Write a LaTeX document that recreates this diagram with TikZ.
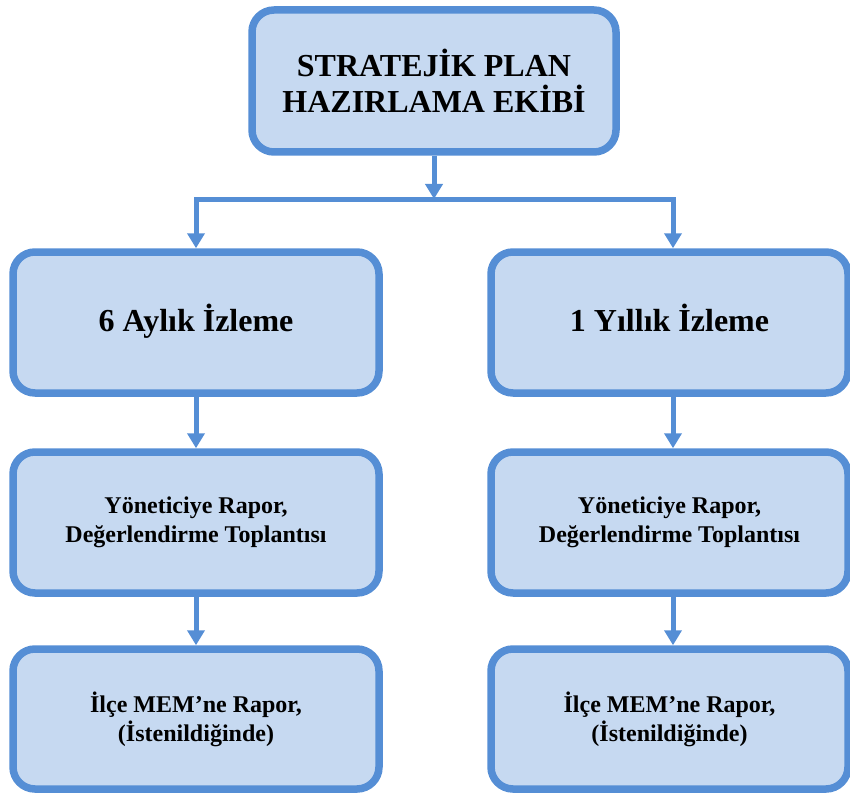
\documentclass[tikz,border=0pt]{standalone}
\usepackage{fontspec}
\setmainfont{Liberation Serif}
\usetikzlibrary{arrows.meta}
\definecolor{bord}{RGB}{85,142,213}
\definecolor{fillc}{RGB}{198,217,241}
\begin{document}
\begin{tikzpicture}[x=1pt,y=-1pt,
  box/.style={draw=bord, fill=fillc, line width=7.5pt, rounded corners=22pt,
    minimum height=141pt, align=center, font=\bfseries, inner sep=0pt},
  lbox/.style={box, minimum width=366pt},
  rbox/.style={box, minimum width=357pt},
  conn/.style={draw=bord, line width=5pt, line join=miter,
    -{Triangle[width=17pt,length=15pt]}},
  bigtxt/.style={font=\bfseries\fontsize{32}{36}\selectfont, text height=24pt, text depth=7pt},
  smtxt/.style={font=\bfseries\fontsize{24}{29}\selectfont}
]
\useasboundingbox (0,0) rectangle (850,794);

\node[box, minimum width=364pt, minimum height=142pt,
  font=\bfseries\fontsize{32}{36}\selectfont] (top) at (434,81)
  {STRATEJİK PLAN\\HAZIRLAMA EKİBİ};

\node[lbox, bigtxt] (a1) at (196,322.5) {6 Aylık İzleme};
\node[lbox, smtxt] (a2) at (196,522.5) {Yöneticiye Rapor,\\Değerlendirme Toplantısı};
\node[lbox, smtxt, minimum height=140pt] (a3) at (196,719) {İlçe MEM’ne Rapor,\\(İstenildiğinde)};

\node[rbox, bigtxt] (b1) at (669.5,322.5) {1 Yıllık İzleme};
\node[rbox, smtxt] (b2) at (669.5,522.5) {Yöneticiye Rapor,\\Değerlendirme Toplantısı};
\node[rbox, smtxt, minimum height=140pt] (b3) at (669.5,719) {İlçe MEM’ne Rapor,\\(İstenildiğinde)};

\coordinate (jm) at (434,200);
\coordinate (jt) at (434,199);

\draw[conn] (top.south) -- (jt);
\draw[conn] (jm) -| (a1.north);
\draw[conn] (jm) -| ([xshift=3.5pt]b1.north);
\draw[conn] (a1.south) -- (a2.north);
\draw[conn] (a2.south) -- (a3.north);
\draw[conn] ([xshift=3.5pt]b1.south) -- ([xshift=3.5pt]b2.north);
\draw[conn] ([xshift=3.5pt]b2.south) -- ([xshift=3.5pt]b3.north);
\end{tikzpicture}
\end{document}
